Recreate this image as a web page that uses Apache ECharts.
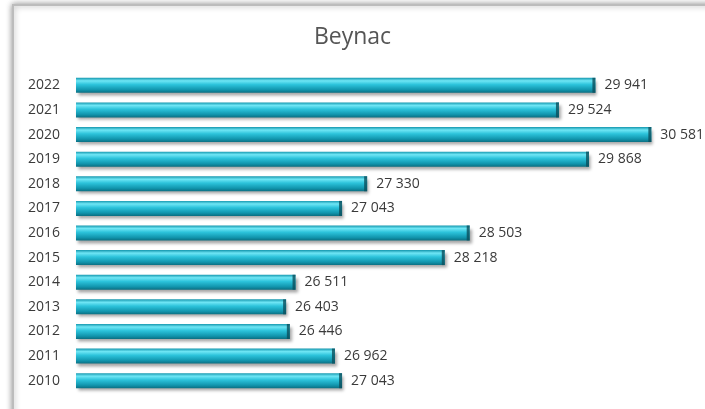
<!DOCTYPE html>
<html lang="fr">
<head>
    <meta charset="UTF-8">
    <title>Beynac</title>
    <style>
        html, body { margin: 0; padding: 0; background: #fff; }
        #main { width: 705px; height: 409px; }
    </style>
</head>
<body>
<div id="main"></div>
<script src="https://cdn.jsdelivr.net/npm/echarts@6/dist/echarts.min.js"></script>
<script>
    var years = ['2010', '2011', '2012', '2013', '2014', '2015', '2016', '2017', '2018', '2019', '2020', '2021', '2022'];
    var visits = [27043, 26962, 26446, 26403, 26511, 28218, 28503, 27043, 27330, 29868, 30581, 29524, 29941];

    function fmt(v) {
        return String(v).replace(/\B(?=(\d{3})+(?!\d))/g, ' ');
    }

    var myChart = echarts.init(document.getElementById('main'));

    var option = {
        backgroundColor: '#fff',
        animation: false,
        title: {
            text: 'Beynac',
            left: 'center',
            top: 21,
            textStyle: { fontFamily: 'Open Sans', fontSize: 23, fontWeight: 'normal', color: '#555' }
        },
        graphic: [{
            type: 'rect',
            z: -1,
            shape: { x: 13, y: 5, width: 720, height: 440 },
            style: {
                fill: '#fff', stroke: '#bcbcbc', lineWidth: 2,
                shadowBlur: 6, shadowColor: 'rgba(0,0,0,0.4)', shadowOffsetX: 0, shadowOffsetY: 0
            }
        }],
        grid: { left: 76, right: 17, top: 73, bottom: 16, containLabel: false },
        xAxis: {
            type: 'value',
            min: 24000,
            max: 31000,
            show: false
        },
        yAxis: {
            type: 'category',
            data: years,
            axisLine: { show: false },
            axisTick: { show: false },
            axisLabel: { margin: 16, fontFamily: 'Open Sans', fontSize: 14, color: '#3a3a3a' }
        },
        series: [{
            type: 'bar',
            data: visits,
            barWidth: 15,
            itemStyle: {
                color: new echarts.graphic.LinearGradient(0, 0, 0, 1, [
                    { offset: 0, color: '#1597ae' },
                    { offset: 0.2, color: '#6fe6f5' },
                    { offset: 0.45, color: '#2cc3db' },
                    { offset: 0.8, color: '#1195ad' },
                    { offset: 1, color: '#0b6f82' }
                ]),
                shadowColor: 'rgba(0,0,0,0.35)',
                shadowBlur: 3,
                shadowOffsetX: 2,
                shadowOffsetY: 3
            },
            label: {
                show: true,
                position: 'right',
                distance: 9,
                fontFamily: 'Open Sans',
                fontSize: 14,
                color: '#3a3a3a',
                formatter: function (p) { return fmt(p.value); }
            }
        }, {
            // dark end cap of each bar
            type: 'scatter',
            data: visits.map(function (v, i) { return [v, years[i]]; }),
            symbol: 'rect',
            symbolSize: [3, 15],
            symbolOffset: [-1.5, 0],
            itemStyle: { color: '#0b4f5c' },
            silent: true
        }]
    };

    myChart.setOption(option);
</script>
</body>
</html>
